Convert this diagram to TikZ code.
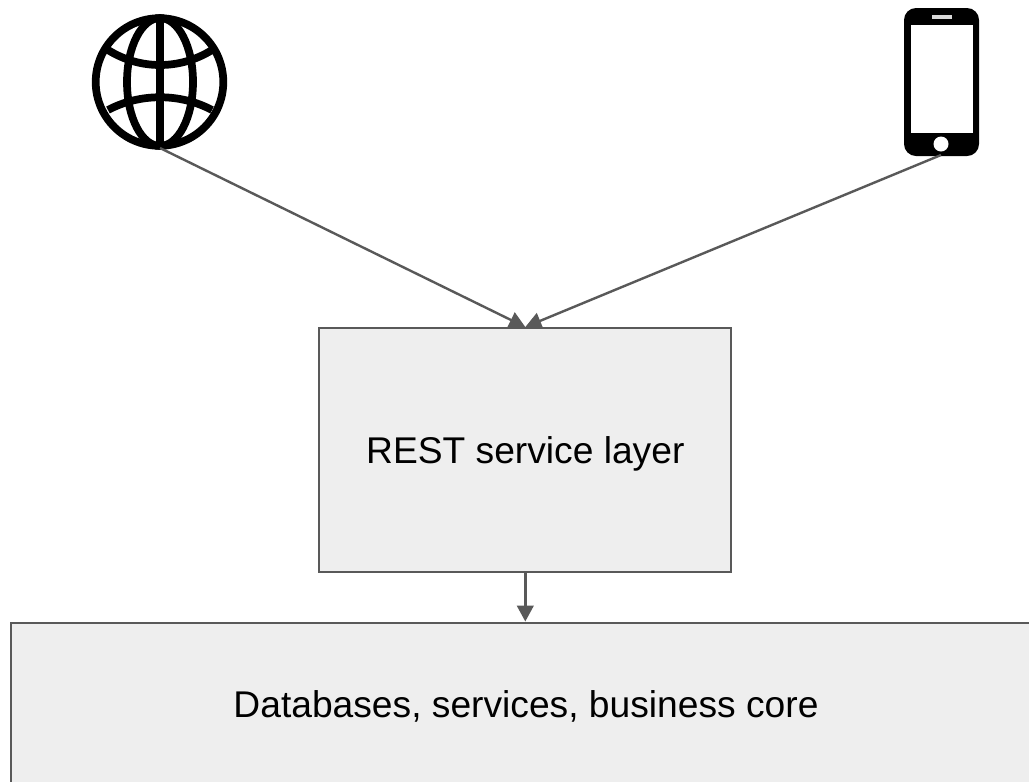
\documentclass[tikz,border=0pt]{standalone}
\usepackage{fontspec}
\setmainfont{Liberation Sans}
\usetikzlibrary{arrows.meta}
\definecolor{boxfill}{HTML}{EEEEEE}
\definecolor{edgegrey}{HTML}{595959}
\tikzset{
  x=0.75bp,y=-0.75bp,
  layerbox/.style={draw=edgegrey,fill=boxfill,line width=1.5bp,inner sep=0pt,font=\fontsize{28}{32}\selectfont,text=black},
  link/.style={draw=edgegrey,line width=1.8bp,-{Triangle[length=12bp,width=12.5bp]}},
  globeline/.style={draw=black,line width=5.8bp},
}
\begin{document}
\begin{tikzpicture}
\useasboundingbox[fill=white] (0,0) rectangle (1029,781);
% globe
\draw[globeline] (159.5,82) circle [radius=63.8];
\draw[globeline] (160,82) ellipse [x radius=33,y radius=64];
\draw[globeline] (160,18) -- (160,146);
\draw[globeline] (108,50) .. controls (140,70) and (180,70) .. (212,50);
\draw[globeline] (108,110) .. controls (140,93) and (180,93) .. (212,110);
% phone
\fill[black,rounded corners=12*0.75bp] (904,8) rectangle (979,156);
\fill[white] (911,25) rectangle (973,133);
\fill[white!85!black] (932,15) rectangle (952,19);
\fill[white] (941,144) circle [radius=7.5];
% anchors and boxes
\coordinate (web) at (160,148);
\coordinate (phone) at (941,155);
\node[layerbox,minimum width=412*0.75bp,minimum height=244*0.75bp,text height=26.5bp,text depth=6bp] (rest) at (525.3,450) {REST service layer};
\node[layerbox,minimum width=1031*0.75bp,minimum height=165*0.75bp,text height=24bp,text depth=6bp] (core) at (526,705) {Databases, services, business core};
\draw[link] (web) -- (rest.north);
\draw[link] (phone) -- (rest.north);
\draw[link] (rest.south) -- (rest.south |- core.north);
\end{tikzpicture}
\end{document}
